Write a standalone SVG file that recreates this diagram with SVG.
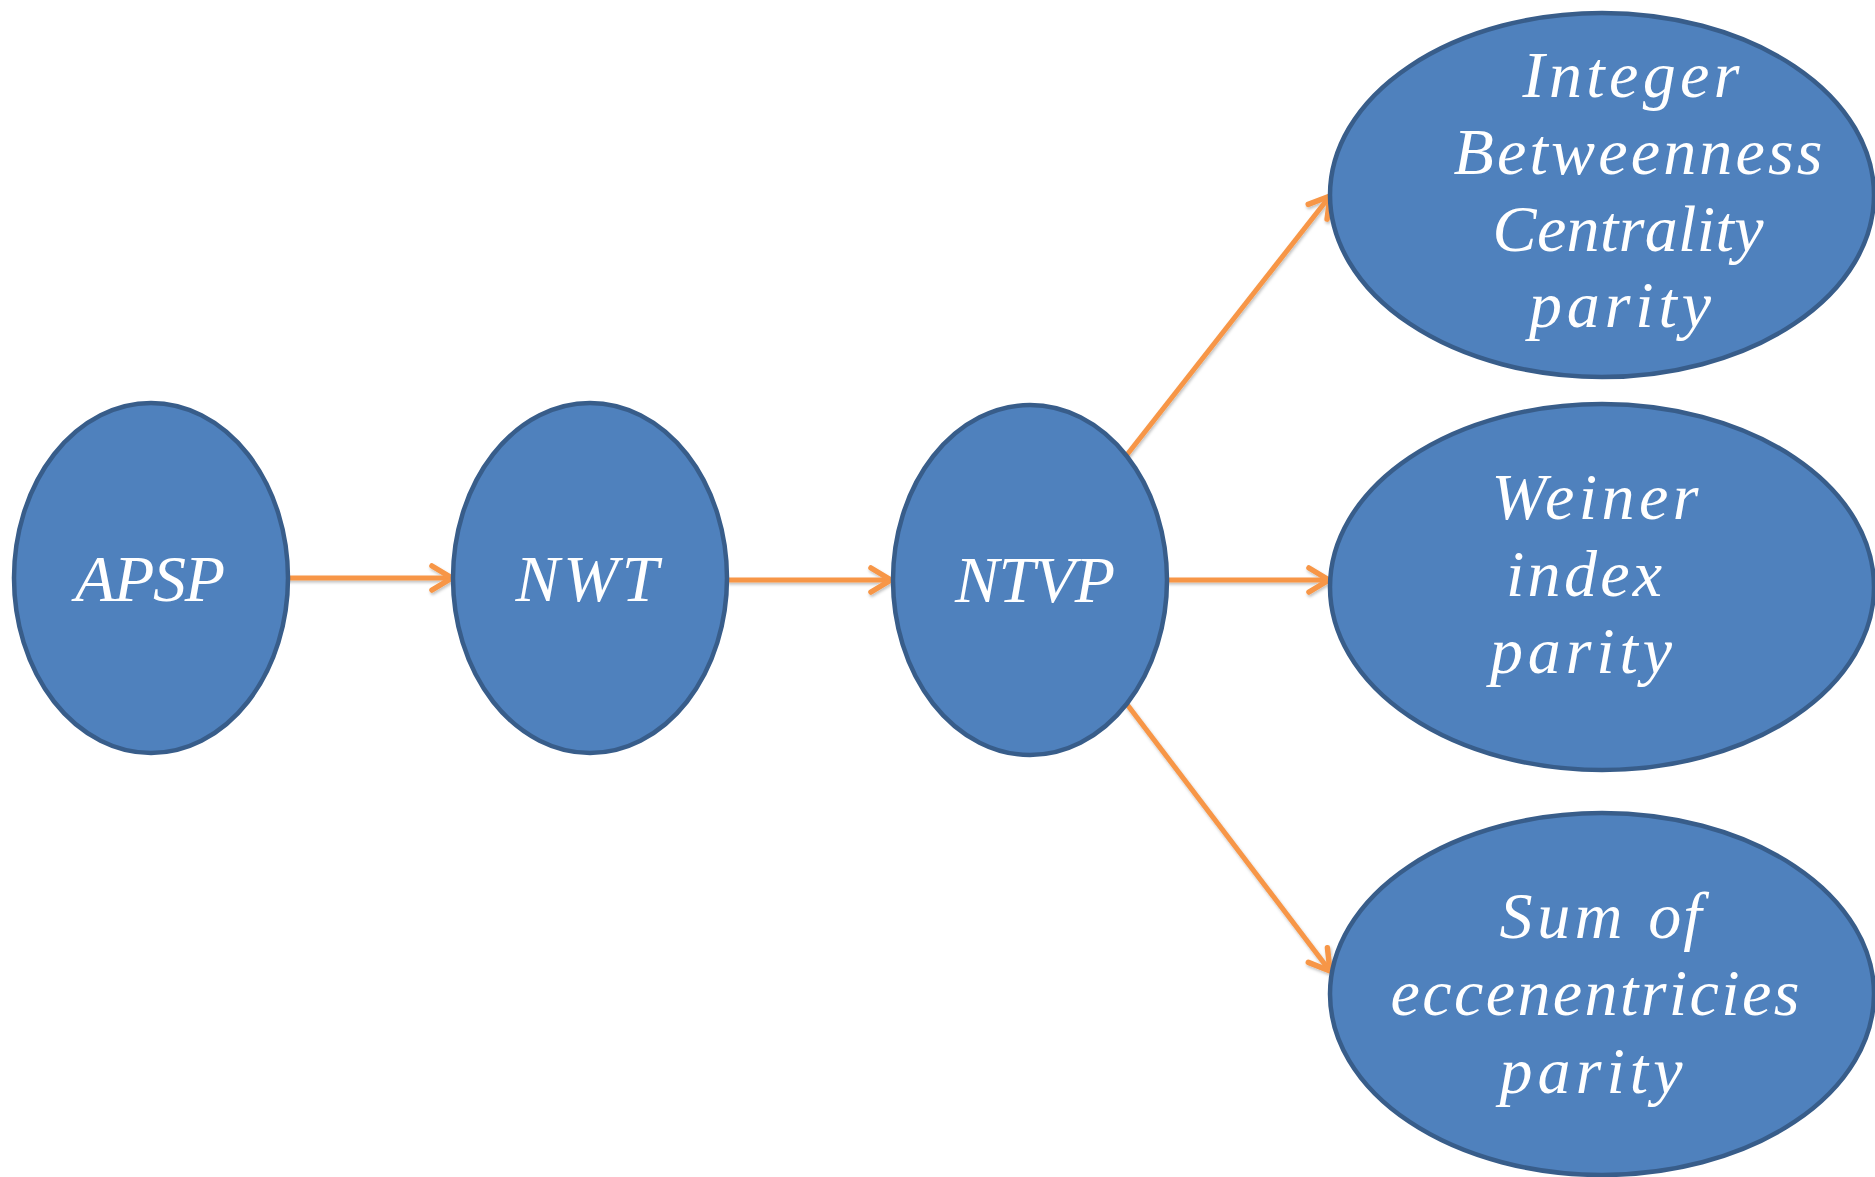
<svg xmlns="http://www.w3.org/2000/svg" width="1875" height="1177" viewBox="0 0 1875 1177">
<style>
.node ellipse{fill:#4F81BD;stroke:#385D8A;stroke-width:4.5}
.node text{fill:#FFFFFF;font-family:"Liberation Serif","DejaVu Serif",serif;font-style:italic;font-size:66px;text-anchor:middle}
.edge{stroke:#F79646;stroke-width:5;fill:none;marker-end:url(#arr)}
</style>
<defs>
<marker id="arr" markerUnits="userSpaceOnUse" markerWidth="40" markerHeight="40" viewBox="-30 -20 40 40" refX="0" refY="0" orient="auto">
<path d="M-20,-12 L0,0 L-20,12" fill="none" stroke="#F79646" stroke-width="5.5" stroke-linecap="round" stroke-linejoin="round"/>
</marker>
<filter id="sh" filterUnits="userSpaceOnUse" x="0" y="0" width="1875" height="1177">
<feDropShadow dx="1" dy="2" stdDeviation="1.5" flood-color="#000" flood-opacity="0.25"/>
</filter>
</defs>
<g id="connectors" filter="url(#sh)">
<line class="edge" x1="287" y1="578" x2="452" y2="578"/>
<line class="edge" x1="727" y1="580" x2="891" y2="580"/>
<line class="edge" x1="1167" y1="580" x2="1329" y2="580"/>
<line class="edge" x1="1126" y1="456" x2="1330" y2="196"/>
<line class="edge" x1="1126" y1="703" x2="1330" y2="971"/>
</g>
<g id="APSP" class="node">
<ellipse cx="151" cy="578" rx="137" ry="175"/>
<text x="150" y="601" textLength="150" lengthAdjust="spacing">APSP</text>
</g>
<g id="NWT" class="node">
<ellipse cx="590" cy="578" rx="137" ry="175"/>
<text x="587" y="601" textLength="143" lengthAdjust="spacing">NWT</text>
</g>
<g id="NTVP" class="node">
<ellipse cx="1030" cy="580" rx="137" ry="175"/>
<text x="1035" y="602" textLength="160" lengthAdjust="spacing">NTVP</text>
</g>
<g id="IBC" class="node">
<ellipse cx="1602" cy="195" rx="272" ry="182"/>
<text x="1631" y="97" textLength="217" lengthAdjust="spacing">Integer</text>
<text x="1638" y="174" textLength="369" lengthAdjust="spacing">Betweenness</text>
<text x="1628" y="251" textLength="271" lengthAdjust="spacing">Centrality</text>
<text x="1620" y="327" textLength="182" lengthAdjust="spacing">parity</text>
</g>
<g id="Weiner" class="node">
<ellipse cx="1602" cy="587" rx="272" ry="183"/>
<text x="1595" y="519" textLength="207" lengthAdjust="spacing">Weiner</text>
<text x="1584" y="596" textLength="156" lengthAdjust="spacing">index</text>
<text x="1581" y="673" textLength="182" lengthAdjust="spacing">parity</text>
</g>
<g id="Sum" class="node">
<ellipse cx="1602" cy="994" rx="272" ry="181"/>
<text x="1604" y="938"><tspan x="1561" textLength="123" lengthAdjust="spacing">Sum</tspan><tspan x="1676" letter-spacing="2">of</tspan></text>
<text x="1595" y="1015" textLength="409" lengthAdjust="spacing">eccenentricies</text>
<text x="1591" y="1093" textLength="183" lengthAdjust="spacing">parity</text>
</g>
</svg>
